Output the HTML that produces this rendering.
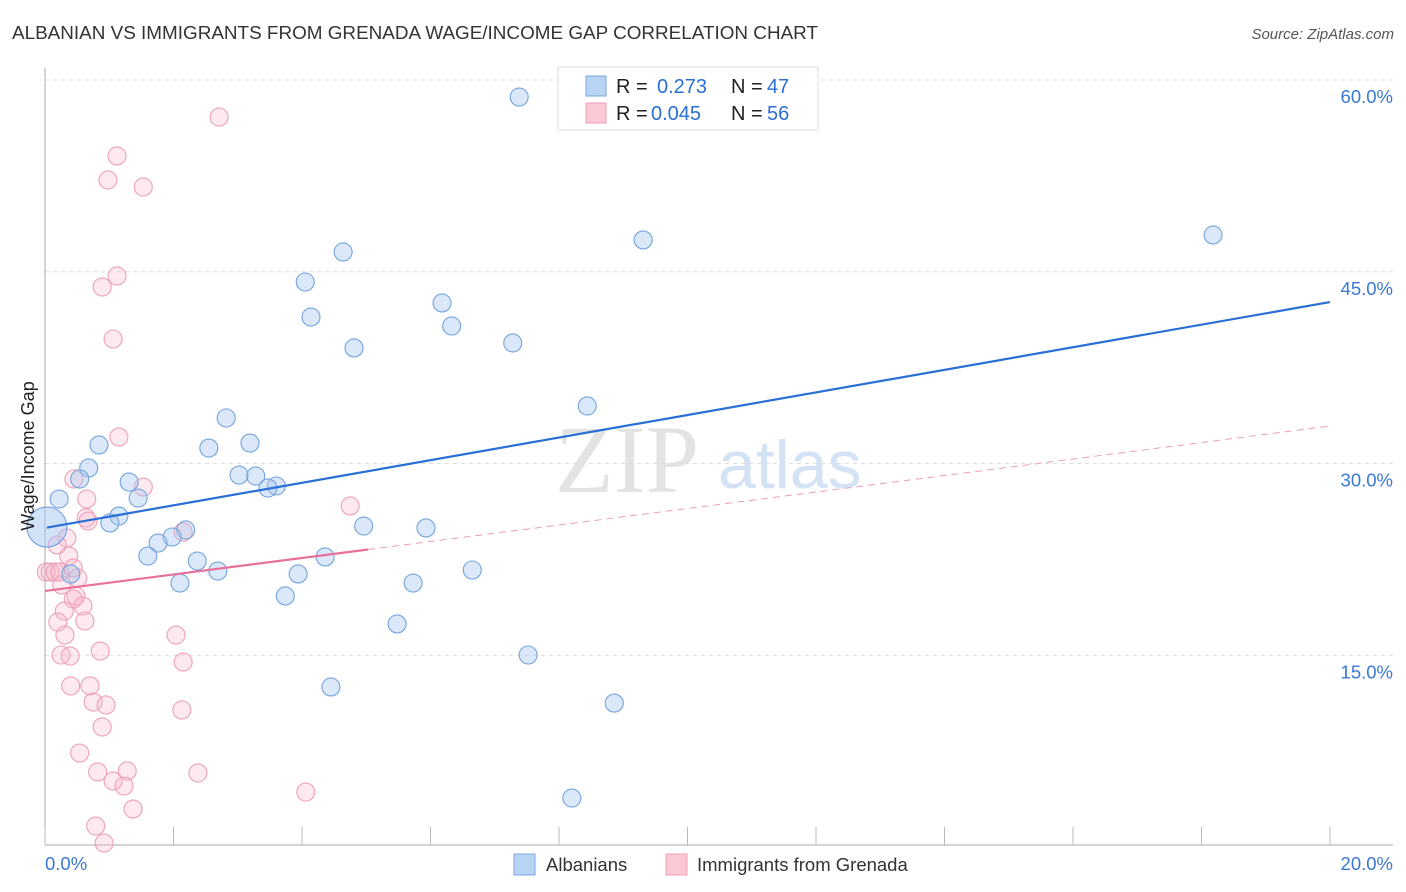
<!DOCTYPE html>
<html><head><meta charset="utf-8"><style>
body{margin:0;background:#fff;font-family:"Liberation Sans",sans-serif;}
svg{display:block}
</style></head><body>
<svg id="chart" width="1406" height="892">
<text x="12" y="39" font-size="18" fill="#333" textLength="806" lengthAdjust="spacingAndGlyphs">ALBANIAN VS IMMIGRANTS FROM GRENADA WAGE/INCOME GAP CORRELATION CHART</text>
<text x="1394" y="39" font-size="15" fill="#555" font-style="italic" text-anchor="end">Source: ZipAtlas.com</text>
<text x="555" y="492" font-size="96" fill="#e3e3e3" font-family="Liberation Serif,serif">ZIP</text>
<text x="718" y="488" font-size="68" fill="#d3e2f4">atlas</text>
<g id="grid"></g>
<g id="axes"></g>
<g id="pts"></g>
<g id="lines"></g>
<text transform="translate(34,456) rotate(-90)" font-size="18" fill="#222" text-anchor="middle">Wage/Income Gap</text>
<g>
<rect x="558" y="67" width="260" height="63" fill="#fff" stroke="#ddd"/>
<rect x="586" y="76" width="20" height="20" fill="#b9d3f5" stroke="#7aa7e0"/>
<rect x="586" y="103" width="20" height="20" fill="#fbc8d6" stroke="#ee9fb6"/>
<text x="616" y="93" font-size="20" fill="#222">R =</text>
<text x="657" y="93" font-size="20" fill="#2a6fd6">0.273</text>
<text x="731" y="93" font-size="20" fill="#222">N =</text>
<text x="767" y="93" font-size="20" fill="#2a6fd6">47</text>
<text x="616" y="120" font-size="20" fill="#222">R =</text>
<text x="651" y="120" font-size="20" fill="#2a6fd6">0.045</text>
<text x="731" y="120" font-size="20" fill="#222">N =</text>
<text x="767" y="120" font-size="20" fill="#2a6fd6">56</text>
</g>
<g>
<rect x="514" y="854" width="21" height="21" fill="#b9d3f5" stroke="#7aa7e0"/>
<text x="546" y="871" font-size="18.5" fill="#333">Albanians</text>
<rect x="666" y="854" width="21" height="21" fill="#fbc8d6" stroke="#ee9fb6"/>
<text x="697" y="871" font-size="18.5" fill="#333">Immigrants from Grenada</text>
</g>
</svg>
<script>
const blueX=[7.38,18.18,9.31,4.64,4.05,6.18,4.14,6.33,4.81,7.28,8.44,2.82,0.84,2.55,3.19,0.68,0.54,3.02,3.28,3.6,3.47,1.31,1.45,0.22,1.15,1.01,2.19,4.96,5.93,1.98,1.76,1.6,2.37,4.36,2.69,6.65,3.94,0.4,2.1,5.73,3.74,5.48,7.52,4.45,8.86,8.2];
const blueY=[58.67,47.88,47.49,46.55,44.2,42.56,41.46,40.76,39.04,39.43,34.5,33.56,31.45,31.21,31.6,29.65,28.79,29.1,29.02,28.24,28.08,28.55,27.3,27.22,25.89,25.35,24.8,25.11,24.96,24.25,23.78,22.76,22.37,22.69,21.59,21.67,21.36,21.36,20.65,20.65,19.64,17.45,15.02,12.52,11.26,3.83];
const bigBlue=[0.03,25.03];
const pinkX=[2.71,1.12,0.98,1.53,1.12,0.89,1.06,1.15,0.45,1.53,0.65,4.75,0.64,0.67,2.15,0.34,0.19,0.37,0.02,0.08,0.16,0.23,0.44,0.51,0.26,0.48,0.44,0.59,0.3,0.2,0.62,0.31,2.04,0.25,0.39,0.86,2.15,0.4,0.7,0.75,0.95,2.13,0.89,0.54,0.82,1.28,1.06,1.23,2.38,4.06,1.37,0.79,0.92];
const pinkY=[57.1,54.06,52.18,51.63,44.67,43.81,39.74,32.07,28.79,28.16,27.22,26.68,25.74,25.5,24.64,24.17,23.63,22.76,21.51,21.51,21.51,21.51,21.83,21.04,20.5,19.64,19.4,18.85,18.46,17.6,17.68,16.58,16.58,15.02,14.94,15.33,14.47,12.6,12.6,11.34,11.11,10.72,9.39,7.35,5.87,5.95,5.16,4.77,5.79,4.3,2.97,1.64,0.31];
const blueTrend=[24.96,42.63];
const pinkTrend=[20.03,32.93];
const pinkSolidEnd=5.03;
const yTicks=[15,30,45,60];
const yTickLabels=["15.0%","30.0%","45.0%","60.0%"];
const xTicks=[0,2,4,6,8,10,12,14,16,18,20];

const NS="http://www.w3.org/2000/svg";
const sx=v=>45+v*64.25, sy=v=>847-v*12.783;
function mk(tag,attrs,parent){const e=document.createElementNS(NS,tag);for(const k in attrs)e.setAttribute(k,attrs[k]);parent.appendChild(e);return e;}
const grid=document.getElementById('grid'),axes=document.getElementById('axes'),pts=document.getElementById('pts'),lines=document.getElementById('lines');
yTicks.forEach((t,i)=>{
 const l=mk('line',{x1:45,x2:1393,y1:sy(t),y2:sy(t),stroke:'#ddd','stroke-dasharray':'4,4'},grid);
 
 
 const tx=mk('text',{x:1393,y:sy(t)+23,'font-size':18.5,fill:'#3a78d4','text-anchor':'end'},grid);
 tx.textContent=yTickLabels[i];
 
 
});
const xa=mk('line',{x1:45,x2:1393,y1:845,y2:845,stroke:'#aaa'},axes);


const ya=mk('line',{x1:45,x2:45,y1:68,y2:845,stroke:'#aaa'},axes);


xTicks.forEach(t=>{
 const l=mk('line',{x1:sx(t),x2:sx(t),y1:827,y2:845,stroke:'#bbb'},axes);
 
 
});
const x0=mk('text',{x:45,y:870,'font-size':18.5,fill:'#3a78d4'},axes);x0.textContent='0.0%';


const x1=mk('text',{x:1393,y:870,'font-size':18.5,fill:'#3a78d4','text-anchor':'end'},axes);x1.textContent='20.0%';


pinkX.forEach((v,i)=>{
 const c=mk('circle',{cx:sx(v),cy:sy(pinkY[i]),r:9,fill:'rgba(248,182,202,0.3)',stroke:'#eea0b8','stroke-width':1.1},pts);
 
 
});
blueX.forEach((v,i)=>{
 const c=mk('circle',{cx:sx(v),cy:sy(blueY[i]),r:9,fill:'rgba(165,198,240,0.4)',stroke:'#74a3dd','stroke-width':1.1},pts);
 
 
});
const bb=mk('circle',{cx:sx(bigBlue[0]),cy:sy(bigBlue[1]),r:20,fill:'rgba(165,198,240,0.5)',stroke:'#74a3dd','stroke-width':1.1},pts);


const bl=mk('line',{x1:sx(0.03),y1:sy(blueTrend[0]+0.03*(blueTrend[1]-blueTrend[0])/20),x2:sx(20),y2:sy(blueTrend[1]),stroke:'#2a6fd6','stroke-width':2.2},lines);


const pAt=x=>pinkTrend[0]+x*(pinkTrend[1]-pinkTrend[0])/20;
const pl=mk('line',{x1:sx(0),y1:sy(pAt(0)),x2:sx(pinkSolidEnd),y2:sy(pAt(pinkSolidEnd)),stroke:'#e8709a','stroke-width':2.2},lines);


const pd=mk('line',{x1:sx(pinkSolidEnd),y1:sy(pAt(pinkSolidEnd)),x2:sx(20),y2:sy(pAt(20)),stroke:'#eaa0b8','stroke-width':1,'stroke-dasharray':'7,5'},lines);


</script>
</body></html>
